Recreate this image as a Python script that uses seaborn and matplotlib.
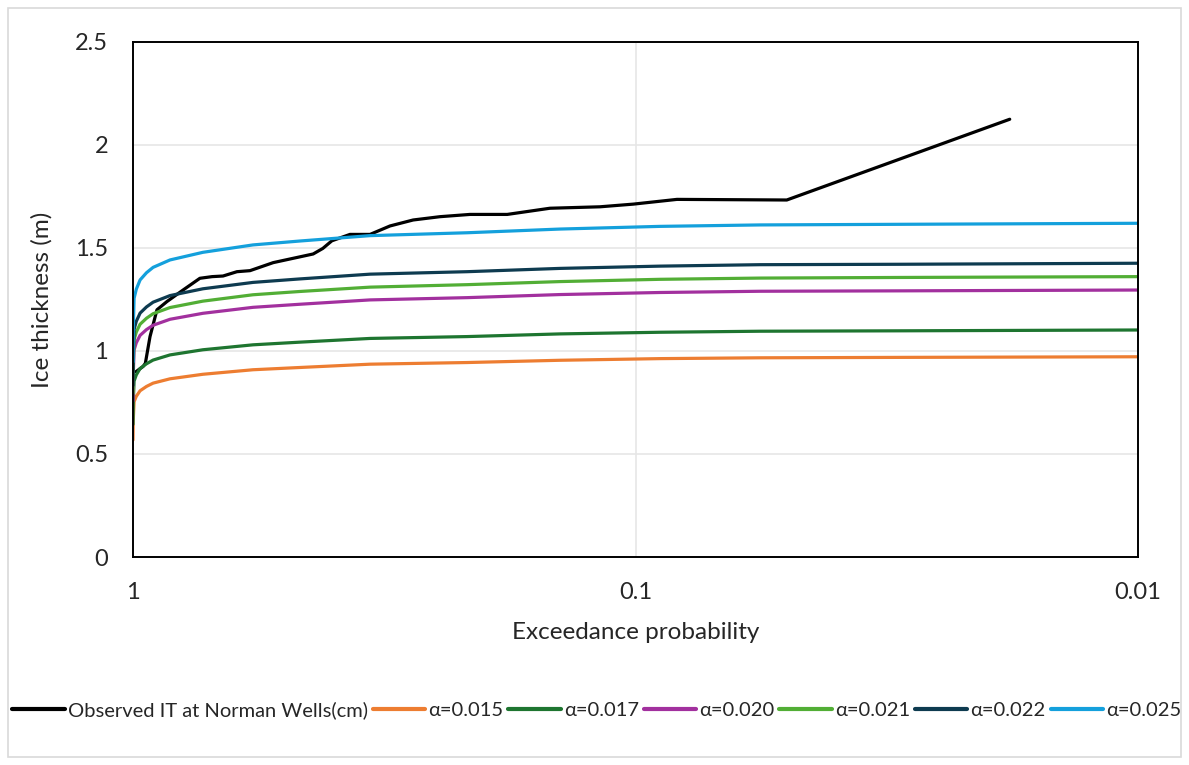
import matplotlib
matplotlib.use("Agg")
import matplotlib.pyplot as plt
import matplotlib.patches as mpatches
from matplotlib.ticker import FixedLocator, FixedFormatter, NullLocator
import seaborn as sns
import pandas as pd

# ---------------- data ----------------
obs_p = [0.986, 0.955, 0.945, 0.925, 0.896, 0.856, 0.795, 0.736, 0.696, 0.662,
         0.621, 0.585, 0.526, 0.480, 0.438, 0.419, 0.402, 0.370, 0.3375, 0.308,
         0.277, 0.245, 0.2135, 0.180, 0.148, 0.1177, 0.101, 0.0827, 0.050, 0.018]
obs_it = [0.90, 0.925, 0.94, 1.07, 1.20, 1.24, 1.296, 1.353, 1.361, 1.364,
          1.385, 1.39, 1.429, 1.45, 1.471, 1.498, 1.535, 1.566, 1.566, 1.607,
          1.636, 1.652, 1.663, 1.663, 1.693, 1.70, 1.713, 1.736, 1.733, 2.125]

model_p = [0.9999, 0.999, 0.995, 0.985, 0.968, 0.94, 0.912, 0.844, 0.726, 0.577,
           0.465, 0.3375, 0.2164, 0.1413, 0.0894, 0.0565, 0.0298, 0.01]
a015 = [0.568, 0.660, 0.754, 0.780, 0.807, 0.828, 0.844, 0.865, 0.887, 0.909,
        0.920, 0.936, 0.944, 0.955, 0.963, 0.967, 0.969, 0.972]
a017 = [0.644, 0.748, 0.854, 0.884, 0.915, 0.938, 0.956, 0.981, 1.006, 1.030,
        1.043, 1.061, 1.070, 1.083, 1.091, 1.096, 1.098, 1.102]
a020 = [0.758, 0.880, 1.005, 1.040, 1.076, 1.104, 1.125, 1.154, 1.183, 1.212,
        1.227, 1.248, 1.259, 1.274, 1.284, 1.290, 1.292, 1.296]
a021 = [0.795, 0.924, 1.055, 1.092, 1.130, 1.159, 1.181, 1.211, 1.242, 1.273,
        1.289, 1.310, 1.322, 1.337, 1.348, 1.354, 1.357, 1.361]
a022 = [0.833, 0.968, 1.105, 1.144, 1.184, 1.214, 1.237, 1.269, 1.302, 1.333,
        1.350, 1.373, 1.385, 1.401, 1.412, 1.419, 1.421, 1.426]
a025 = [0.947, 1.100, 1.256, 1.300, 1.345, 1.380, 1.406, 1.442, 1.479, 1.515,
        1.534, 1.560, 1.574, 1.592, 1.605, 1.612, 1.615, 1.620]

series_names = ["Observed IT at Norman Wells(cm)", "α=0.015", "α=0.017",
                "α=0.020", "α=0.021", "α=0.022", "α=0.025"]
series_colors = ["#000000", "#ED7D31", "#1E7530", "#A2309E", "#52AE35",
                 "#0E3B50", "#14A0DC"]
x_ticks = [1, 0.1, 0.01]
x_tick_labels = ["1", "0.1", "0.01"]
y_ticks = [0, 0.5, 1, 1.5, 2, 2.5]
y_tick_labels = ["0", "0.5", "1", "1.5", "2", "2.5"]

# ---------------- build table ----------------
rows = []
for p, v in zip(obs_p, obs_it):
    rows.append((series_names[0], p, v))
for name, vals in zip(series_names[1:], [a015, a017, a020, a021, a022, a025]):
    for p, v in zip(model_p, vals):
        rows.append((name, p, v))
df = pd.DataFrame(rows, columns=["series", "p", "it"])

# ---------------- plot ----------------
sns.set_style("white")
plt.rcParams["font.family"] = ["Lato", "DejaVu Sans"]

fig = plt.figure(figsize=(11.89, 7.65), dpi=100)
ax = fig.add_axes([133 / 1189, 1 - 557 / 765, (1138 - 133) / 1189, (557 - 42) / 765])

sns.lineplot(data=df, x="p", y="it", hue="series", hue_order=series_names,
             palette=dict(zip(series_names, series_colors)), estimator=None,
             sort=False, units="series", linewidth=2.3, ax=ax, legend=True)

ax.set_xscale("log")
ax.set_xlim(1, 0.01)
ax.set_ylim(0, 2.5)
ax.xaxis.set_major_locator(FixedLocator(x_ticks))
ax.xaxis.set_major_formatter(FixedFormatter(x_tick_labels))
ax.xaxis.set_minor_locator(NullLocator())
ax.yaxis.set_major_locator(FixedLocator(y_ticks))
ax.yaxis.set_major_formatter(FixedFormatter(y_tick_labels))

ax.grid(True, axis="both", color="#e6e6e6", linewidth=1.2)
ax.set_axisbelow(True)
for s in ax.spines.values():
    s.set_color("black")
    s.set_linewidth(1.4)

ax.tick_params(axis="x", which="major", direction="out", length=7, width=1.2,
               color="black", labelsize=17, pad=11, labelcolor="#262626")
ax.tick_params(axis="y", which="major", length=0, labelsize=17, pad=18,
               labelcolor="#262626")

ax.set_xlabel("Exceedance probability", fontsize=17.5, color="#262626", labelpad=14)
ax.set_ylabel("Ice thickness (m)", fontsize=17.5, color="#262626", labelpad=16)

handles, labels = ax.get_legend_handles_labels()
ax.legend_.remove()
leg = fig.legend(handles, labels, loc="center", bbox_to_anchor=(0.502, 1 - 710 / 765),
                 ncol=7, frameon=False, fontsize=14.5, handlelength=2.6,
                 handletextpad=0.15, columnspacing=0.25, labelcolor="#262626")
for h in leg.legend_handles:
    h.set_linewidth(3)

border = mpatches.Rectangle((8 / 1189, 8 / 765), 1 - 16 / 1189, 1 - 16 / 765,
                            transform=fig.transFigure, fill=False,
                            edgecolor="#d9d9d9", linewidth=1.2)
fig.patches.append(border)

fig.savefig("out.png", dpi=100, facecolor="white")
